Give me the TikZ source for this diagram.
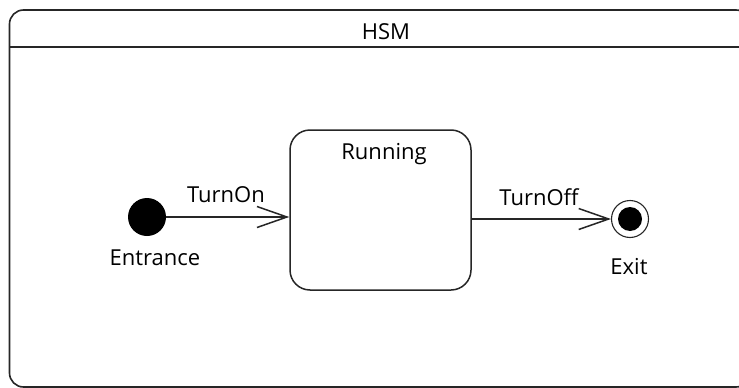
\documentclass[tikz,border=0pt]{standalone}
\usepackage{fontspec}
\setmainfont{Open Sans}
\usetikzlibrary{arrows.meta}
\tikzset{
  lbl/.style={inner sep=0pt, font=\fontsize{22}{25}\selectfont},
  frameline/.style={line width=1.6pt, draw=black!85},
  statebox/.style={draw=black!85, line width=1.5pt, rounded corners=20pt, minimum width=181pt, minimum height=160pt, inner sep=0pt},
  initstate/.style={circle, fill=black, minimum size=38pt, inner sep=0pt},
  finalouter/.style={circle, draw=black!85, line width=1.1pt, minimum size=37pt, inner sep=0pt},
  finalinner/.style={circle, fill=black, minimum size=24pt, inner sep=0pt},
  trans/.style={line width=1.5pt, draw=black!85, -{Straight Barb[length=30pt, width=21pt, line width=1.5pt]}}
}
\begin{document}
\begin{tikzpicture}[x=1pt, y=-1pt]
  \useasboundingbox (0,0) rectangle (739,388);
  \fill[white] (0,0) rectangle (739,388);
  \begin{scope}
    \clip (0,0) rectangle (739,388);
    % enclosing state machine frame with its title compartment
    \draw[frameline, rounded corners=14pt] (9.5,10) rectangle (750,387);
    \draw[frameline] (9.5,47) -- (750,47);
  \end{scope}
  \node[lbl] (title) at (386,32) {HSM};

  % states
  \node[statebox] (run) at (380.5,210) {};
  \node[lbl] (runlabel) at (384,154) {Running};
  \node[initstate] (entr) at (147,217) {};
  \node[lbl] (entrlabel) at (155,258) {Entrance};
  \node[finalouter] (exit) at (630,219) {};
  \node[finalinner] (exitdot) at (630,219) {};
  \node[lbl] (exitlabel) at (629,267) {Exit};

  % transitions
  \draw[trans] (entr.east) -- (entr.east -| run.west);
  \node[lbl] (turnon) at (226,195) {TurnOn};
  \draw[trans] (exit.west -| run.east) -- (exit.west);
  \node[lbl] (turnoff) at (539,197) {TurnOff};
\end{tikzpicture}
\end{document}
